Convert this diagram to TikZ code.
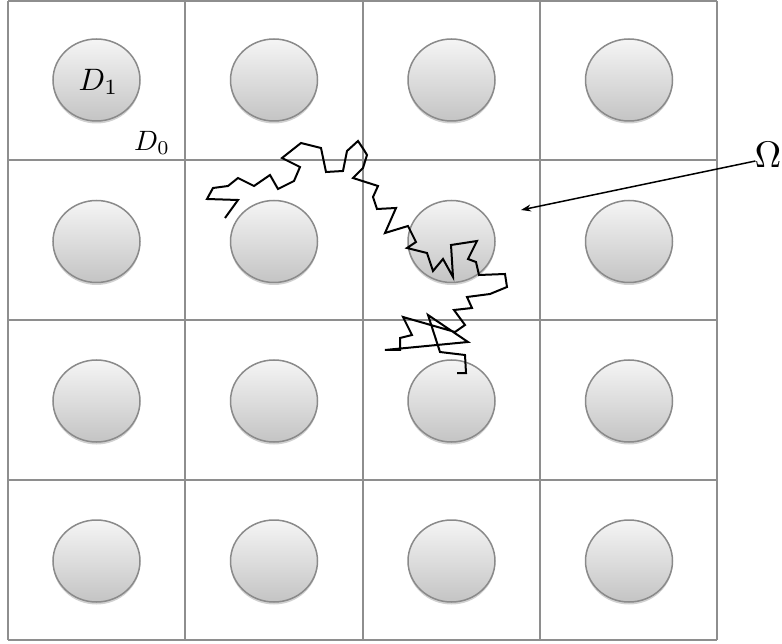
\documentclass[tikz,border=0pt]{standalone}
\usetikzlibrary{arrows.meta,shapes.geometric,shadows}
\definecolor{gridgray}{HTML}{8E8E8E}
\definecolor{circtop}{HTML}{F5F5F5}
\definecolor{circbot}{HTML}{C4C4C4}
\definecolor{circedge}{HTML}{8A8A8A}
\begin{document}
\begin{tikzpicture}[x=1pt,y=-1pt,
  gridline/.style={draw=gridgray,line width=2pt},
  disc/.style={ellipse,minimum width=87pt,minimum height=82pt,inner sep=0pt,
    top color=circtop,bottom color=circbot,draw=circedge,line width=1.5pt,
    drop shadow={shadow xshift=0pt,shadow yshift=-2.5pt,fill=black,opacity=0.18}},
  walk/.style={draw=black,line width=2pt,line join=miter},
  lbl/.style={inner sep=0pt}]
\useasboundingbox (0,0) rectangle (782,644);
% grid
\foreach \x in {8,185,362.5,539.5,717} \draw[gridline] (\x,1) -- (\x,640);
\foreach \y in {1,160.5,320.5,480,640} \draw[gridline] (8,\y) -- (717,\y);
% discs
\foreach \cx [count=\i] in {96.5,274,451.5,629}
  \foreach \cy [count=\j] in {80,241.5,401,561}
    \node[disc] (c\j\i) at (\cx,\cy) {};
\node[lbl] at ([xshift=2pt,yshift=-2pt]c11.center) {\scalebox{3.1}{$D_1$}};
\node[lbl] (d0) at (152,143) {\scalebox{2.8}{$D_0$}};
% random walk
\draw[walk] (225,218) -- (238,200) -- (207,199) -- (213,188) -- (228,186) -- (238,178)
 -- (254,186) -- (270,175) -- (278,189) -- (294,181) -- (300,167) -- (282,158)
 -- (301,143) -- (321,148) -- (326,172) -- (343,171) -- (347,151) -- (358,141)
 -- (364,150) -- (367,155) -- (363,168) -- (353,178) -- (378,186) -- (373,197)
 -- (377,209) -- (396,208) -- (385,233) -- (408,226) -- (416,242) -- (407,248)
 -- (427,253) -- (433,271) -- (443,259) -- (453,277) -- (451,245) -- (477,241)
 -- (468,259) -- (476,262) -- (479,275) -- (505,274) -- (507,287) -- (490,294)
 -- (467,297) -- (472,308) -- (454,310) -- (465,325) -- (455,332) -- (403,317)
 -- (412,335) -- (400,338) -- (400,350) -- (385,350) -- (468,342) -- (428,315)
 -- (440,352) -- (465,355) -- (466,373) -- (457,373);
% Omega
\node[lbl] (omega) at (768,155) {\scalebox{3.7}{$\Omega$}};
\coordinate (otip) at (521,210);
\draw[line width=1.5pt,-{Stealth[length=10pt,width=7pt]}] ([xshift=1pt,yshift=-6pt]omega.west) -- (otip);
\end{tikzpicture}
\end{document}
